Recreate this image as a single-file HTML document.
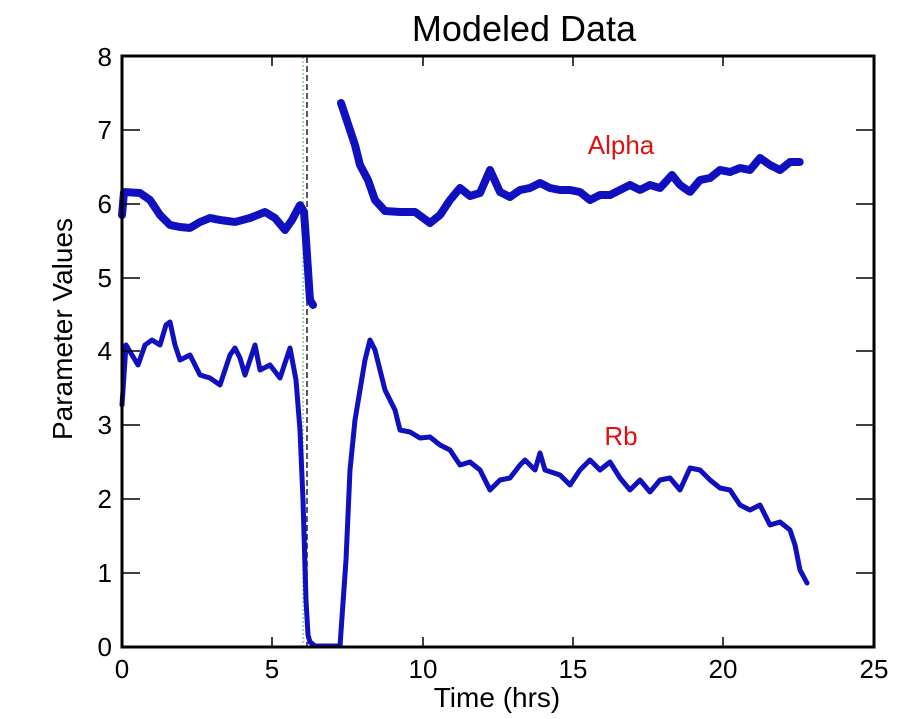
<!DOCTYPE html>
<html><head><style>body{margin:0;background:#fff}svg{display:block;font-family:"Liberation Sans",sans-serif}</style></head><body>
<svg width="922" height="719" viewBox="0 0 922 719">
<text x="524" y="41" font-size="36" text-anchor="middle">Modeled Data</text>
<line x1="303" y1="57" x2="303" y2="646" stroke="#9c9" stroke-width="1.5" stroke-dasharray="2,2"/>
<line x1="307" y1="57" x2="307" y2="646" stroke="#223" stroke-width="1.5" stroke-dasharray="6,3"/>
<g fill="none" stroke="#1010c0" stroke-linejoin="round" stroke-linecap="round">
<polyline stroke-width="8" stroke-dasharray="3,1" points="122,215 124,192 140,193 150,200 160,215 170,225 180,227 190,228 200,222 210,218 220,220 235,222 250,218 265,212 275,218 285,230 292,220 300,205 304,212 306,240 310,300 313,305"/>
<polyline stroke-width="8" stroke-dasharray="3,1" points="341,103 345,115 350,130 355,145 360,165 368,180 375,200 385,211 400,212 415,212 430,223 440,215 450,200 460,188 470,196 480,193 490,170 500,192 510,197 520,190 530,188 540,183 550,188 560,190 570,190 580,192 590,200 600,195 610,195 620,190 630,185 640,190 650,185 660,188 672,175 680,185 690,192 700,180 710,178 720,170 730,172 740,168 750,170 760,158 770,165 780,170 790,162 800,162"/>
<polyline stroke-width="5" points="122,405 126,345 132,355 138,365 145,345 152,340 160,345 166,325 170,322 175,345 180,360 190,355 200,375 210,378 220,385 230,355 235,348 240,358 245,375 255,345 260,370 270,365 280,378 290,348 296,380 300,430 303,500 306,600 308,635 310,642 315,646 340,646 346,560 350,470 355,420 360,390 365,360 370,340 375,350 380,370 385,390 395,410 400,430 410,432 420,438 430,437 440,445 450,450 460,465 470,462 480,470 490,490 500,480 510,478 520,465 525,460 535,470 540,453 545,470 560,475 570,485 580,470 590,460 600,470 610,462 620,478 630,490 640,480 650,492 660,480 670,478 680,490 690,468 700,470 710,480 720,488 730,490 740,505 750,510 760,505 770,525 780,522 790,530 795,545 800,570 807,583"/>
</g>
<rect x="122" y="56" width="752" height="591" fill="none" stroke="#000" stroke-width="3"/>
<g stroke="#000" stroke-width="1.5">
<line x1="272" y1="647" x2="272" y2="637"/><line x1="423" y1="647" x2="423" y2="637"/><line x1="573" y1="647" x2="573" y2="637"/><line x1="723" y1="647" x2="723" y2="637"/>
<line x1="272" y1="56" x2="272" y2="66"/><line x1="423" y1="56" x2="423" y2="66"/><line x1="573" y1="56" x2="573" y2="66"/><line x1="723" y1="56" x2="723" y2="66"/>
<line x1="122" y1="130" x2="140" y2="130"/><line x1="122" y1="204" x2="140" y2="204"/><line x1="122" y1="278" x2="140" y2="278"/><line x1="122" y1="351" x2="140" y2="351"/><line x1="122" y1="425" x2="140" y2="425"/><line x1="122" y1="499" x2="140" y2="499"/><line x1="122" y1="573" x2="140" y2="573"/>
<line x1="874" y1="130" x2="856" y2="130"/><line x1="874" y1="204" x2="856" y2="204"/><line x1="874" y1="278" x2="856" y2="278"/><line x1="874" y1="351" x2="856" y2="351"/><line x1="874" y1="425" x2="856" y2="425"/><line x1="874" y1="499" x2="856" y2="499"/><line x1="874" y1="573" x2="856" y2="573"/>
</g>
<g font-size="26" text-anchor="middle">
<text x="122" y="678">0</text><text x="272" y="678">5</text><text x="423" y="678">10</text><text x="573" y="678">15</text><text x="723" y="678">20</text><text x="874" y="678">25</text>
</g>
<text x="497" y="707" font-size="28" text-anchor="middle">Time (hrs)</text>
<g font-size="26" text-anchor="end">
<text x="112" y="66">8</text><text x="112" y="139">7</text><text x="112" y="213">6</text><text x="112" y="287">5</text><text x="112" y="360">4</text><text x="112" y="434">3</text><text x="112" y="508">2</text><text x="112" y="582">1</text><text x="112" y="656">0</text>
</g>
<text transform="translate(72,329) rotate(-90)" font-size="28" text-anchor="middle">Parameter Values</text>
<text x="621" y="154" font-size="26" fill="#e01010" text-anchor="middle">Alpha</text>
<text x="621" y="445" font-size="26" fill="#e01010" text-anchor="middle">Rb</text>
</svg>
</body></html>
